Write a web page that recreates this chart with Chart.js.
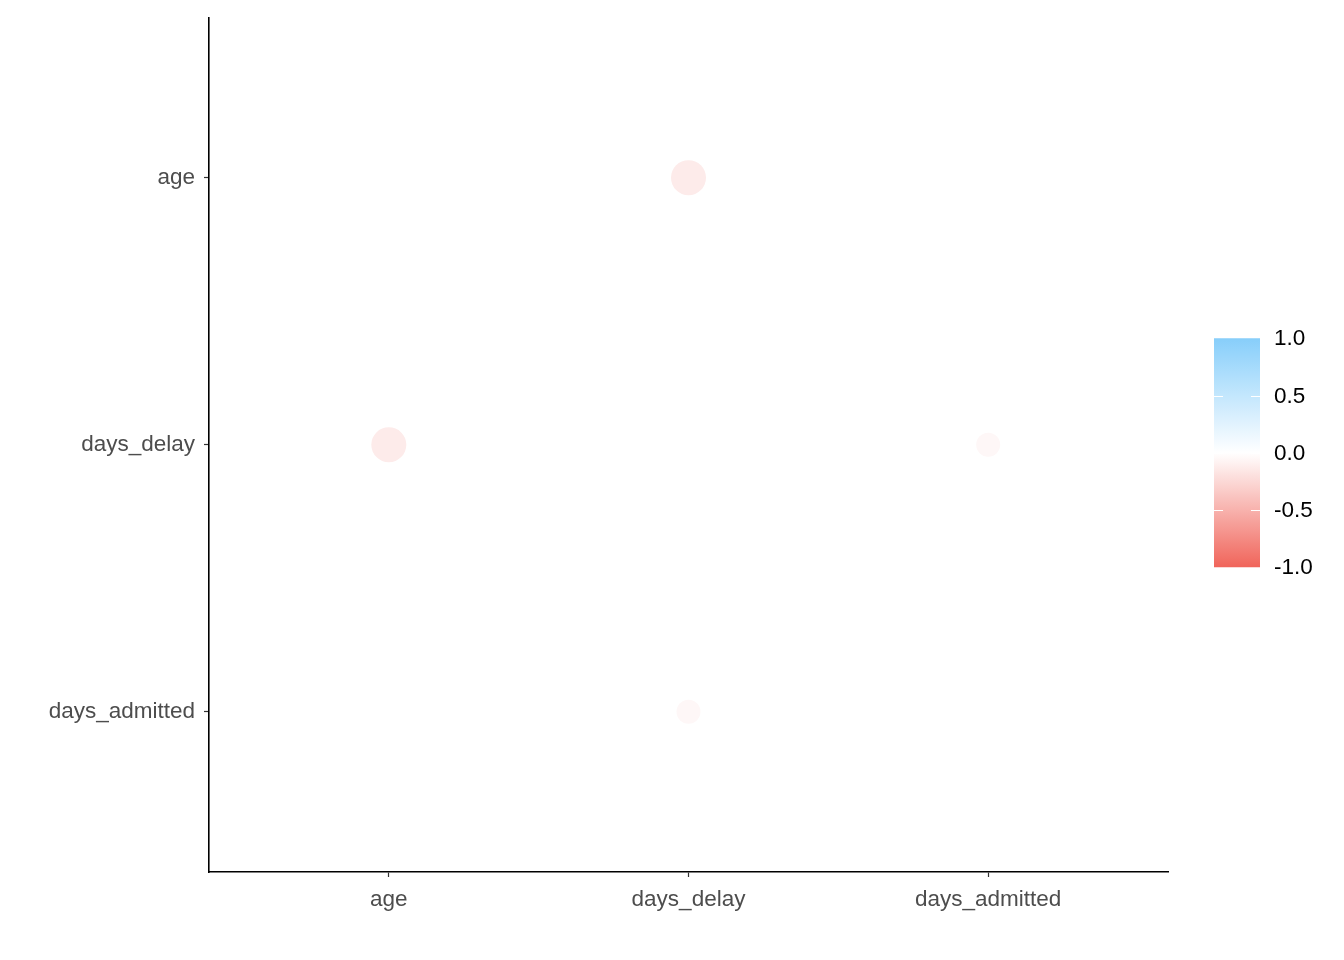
<!DOCTYPE html>
<html>
<head>
<meta charset="utf-8">
<script src="https://cdn.jsdelivr.net/npm/chart.js@4/dist/chart.umd.min.js"></script>
<style>
  html, body { margin: 0; padding: 0; background: #fff; }
  #wrap { width: 1344px; height: 960px; }
</style>
</head>
<body>
<div id="wrap"><canvas id="corr" width="1344" height="960"></canvas></div>
<script>
// variables, bottom-to-top on y, left-to-right on x
var xVars = ['age', 'days_delay', 'days_admitted'];
var yVars = ['days_admitted', 'days_delay', 'age'];

// correlations shown (cells that have a circle)
var cellX = ['age', 'days_delay', 'days_admitted', 'days_delay'];
var cellY = ['days_delay', 'age', 'days_delay', 'days_admitted'];
var cellR = [-0.13, -0.13, -0.05, -0.05];

var legendTicks = [1.0, 0.5, 0.0, -0.5, -1.0];

var lowColor = [240, 100, 90];
var midColor = [255, 255, 255];
var highColor = [135, 206, 250];

function corrColor(v) {
  var end = v < 0 ? lowColor : highColor;
  var t = Math.min(1, Math.abs(v));
  var c = midColor.map(function (m, i) { return Math.round(m + (end[i] - m) * t); });
  return 'rgb(' + c.join(',') + ')';
}

function corrRadius(v) {
  // ggcorrplot-like size scale: smallest |r| -> small dot, largest -> big dot
  var a = cellR.map(Math.abs);
  var lo = Math.min.apply(null, a), hi = Math.max.apply(null, a);
  var t = hi === lo ? 1 : (Math.abs(v) - lo) / (hi - lo);
  return 12 + t * 5.5;
}

var points = cellX.map(function (xv, i) {
  return { x: xVars.indexOf(xv) + 1, y: yVars.indexOf(cellY[i]) + 1, r: corrRadius(cellR[i]) };
});

var colorbarPlugin = {
  id: 'colorbar',
  afterDraw: function (chart) {
    var ctx = chart.ctx;
    var area = chart.chartArea;
    var x0 = area.right + 46, w = 46;
    var midY = (area.top + area.bottom) / 2 + 8;
    var h = 229;
    var top = midY - h / 2, bottom = midY + h / 2;
    var g = ctx.createLinearGradient(0, top, 0, bottom);
    for (var k = 0; k <= 20; k++) {
      var v = 1 - k / 10;
      g.addColorStop(k / 20, corrColor(v));
    }
    ctx.save();
    ctx.fillStyle = g;
    ctx.fillRect(x0, top, w, h);
    ctx.strokeStyle = '#ffffff';
    ctx.lineWidth = 1;
    ctx.font = '22.5px "Liberation Sans", Arial, sans-serif';
    ctx.fillStyle = '#000000';
    ctx.textBaseline = 'middle';
    ctx.textAlign = 'left';
    legendTicks.forEach(function (v) {
      var y = top + (1 - v) / 2 * h;
      var yy = Math.round(y) + 0.5;
      if (Math.abs(v) < 1) {
        ctx.beginPath();
        ctx.moveTo(x0, yy); ctx.lineTo(x0 + 9, yy);
        ctx.moveTo(x0 + w - 9, yy); ctx.lineTo(x0 + w, yy);
        ctx.stroke();
      }
      ctx.fillText(v.toFixed(1), x0 + w + 14, y + 1);
    });
    ctx.restore();
  }
};

var axisFont = { family: '"Liberation Sans", Arial, sans-serif', size: 22.5 };

new Chart(document.getElementById('corr').getContext('2d'), {
  type: 'bubble',
  data: {
    datasets: [{
      data: points,
      backgroundColor: cellR.map(corrColor),
      borderWidth: 0,
      hoverRadius: 0
    }]
  },
  options: {
    responsive: false,
    maintainAspectRatio: false,
    animation: false,
    events: [],
    layout: { padding: { top: 13, right: 176, left: 0, bottom: 0 } },
    scales: {
      x: {
        type: 'linear',
        min: 0.4,
        max: 3.6,
        afterBuildTicks: function (s) { s.ticks = xVars.map(function (v, i) { return { value: i + 1 }; }); },
        afterFit: function (s) { s.height = 88; s.paddingLeft = 0; s.paddingRight = 0; },
        ticks: {
          color: '#4D4D4D',
          font: axisFont,
          padding: 9,
          callback: function (v) { return xVars[v - 1]; }
        },
        grid: { drawOnChartArea: false, tickLength: 5, color: '#333333', tickWidth: 1.2 },
        border: { color: '#000000', width: 1.6 }
      },
      y: {
        type: 'linear',
        min: 0.4,
        max: 3.6,
        afterBuildTicks: function (s) { s.ticks = yVars.map(function (v, i) { return { value: i + 1 }; }); },
        afterFit: function (s) { s.width = 209; s.paddingTop = 0; s.paddingBottom = 0; },
        ticks: {
          color: '#4D4D4D',
          font: axisFont,
          padding: 9,
          callback: function (v) { return yVars[v - 1]; }
        },
        grid: { drawOnChartArea: false, tickLength: 5, color: '#333333', tickWidth: 1.2 },
        border: { color: '#000000', width: 1.6 }
      }
    },
    plugins: {
      legend: { display: false },
      tooltip: { enabled: false }
    }
  },
  plugins: [colorbarPlugin]
});
</script>
</body>
</html>
